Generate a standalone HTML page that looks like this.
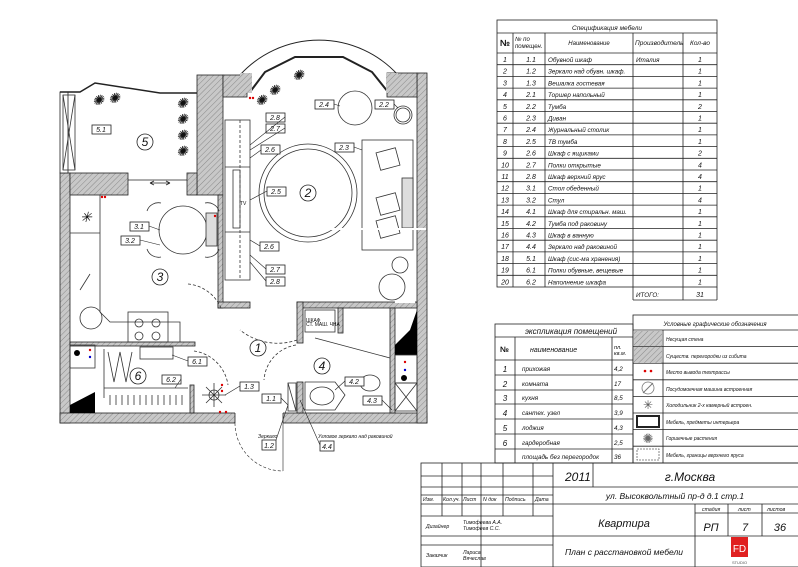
<!DOCTYPE html>
<html><head><meta charset="utf-8"><style>
html,body{margin:0;padding:0;background:#fff}
svg{display:block}
text{font-family:"Liberation Sans",sans-serif;font-style:italic;fill:#111}
</style></head><body>
<svg width="798" height="567" viewBox="0 0 798 567" xmlns="http://www.w3.org/2000/svg">
<defs>
<pattern id="h" width="4" height="4" patternUnits="userSpaceOnUse" patternTransform="rotate(45)">
<rect width="4" height="4" fill="#c8c8c8"/><line x1="0" y1="0" x2="0" y2="4" stroke="#8a8a8a" stroke-width="1"/>
</pattern>
</defs>
<rect width="798" height="567" fill="#fff"/>

<g stroke="#222" stroke-width="0.8">
<rect x="60" y="173" width="10" height="250" fill="url(#h)"/>
<rect x="60" y="413" width="367" height="10" fill="url(#h)"/>
<rect x="417" y="73" width="10" height="350" fill="url(#h)"/>
<rect x="197" y="75" width="26" height="120" fill="url(#h)"/>
<rect x="223" y="75" width="24" height="22" fill="url(#h)"/>
<rect x="387" y="73" width="30" height="24" fill="url(#h)"/>
<rect x="70" y="173" width="58" height="22" fill="url(#h)"/>
<rect x="187" y="173" width="10" height="22" fill="url(#h)"/>
<rect x="218" y="195" width="5" height="113" fill="url(#h)"/>
<rect x="218" y="302" width="32" height="6" fill="url(#h)"/>
<rect x="297" y="302" width="120" height="6" fill="url(#h)"/>
<rect x="297" y="302" width="6" height="41" fill="url(#h)"/>
<rect x="297" y="382" width="6" height="31" fill="url(#h)"/>
<rect x="390" y="308" width="5" height="105" fill="url(#h)"/>
<rect x="338" y="308" width="5" height="25" fill="url(#h)"/>
<rect x="70" y="342" width="125" height="4" fill="url(#h)"/>
<rect x="190" y="385" width="4" height="28" fill="url(#h)"/>
<rect x="60" y="92" width="8" height="81" fill="#fff"/>
<polyline points="60,92 80,92 95,83 160,93 197,93" fill="none" stroke-width="1.5"/>
<line x1="128" y1="180" x2="187" y2="180"/>
<rect x="235" y="412" width="48" height="12" fill="#fff" stroke="none"/>
<line x1="235" y1="413" x2="235" y2="423"/><line x1="283" y1="413" x2="283" y2="423"/>
<path d="M235,423 A48,48 0 0 0 283,471" fill="none" stroke-dasharray="3,2" stroke-width="0.6"/>
<line x1="283" y1="423" x2="283" y2="471" stroke-width="0.6"/>
<path d="M240,75 A107,107 0 0 1 398,75" fill="none" stroke-width="1"/>
<path d="M250,92 L265,72 L295,57 L343,57 L372,72 L388,92" fill="none" stroke-width="2"/>
<rect x="240" y="73" width="12" height="20" fill="url(#h)" stroke="none"/>
<rect x="386" y="73" width="12" height="20" fill="url(#h)" stroke="none"/>
</g>
<path d="M70,405 L95,392 L95,413 L70,413Z" fill="#000"/>
<path d="M395,345 L410,330 L417,310 L417,355 L395,355Z" fill="#000"/>

<g fill="none" stroke="#333" stroke-width="0.8">
<rect x="63" y="95" width="12" height="75"/><line x1="63" y1="95" x2="75" y2="170"/><line x1="75" y1="95" x2="63" y2="170"/>
<circle cx="308" cy="193" r="49"/><circle cx="308" cy="193" r="44"/>
<circle cx="355" cy="108" r="17"/><circle cx="403" cy="115" r="9"/><circle cx="403" cy="115" r="7"/>
<rect x="362" y="140" width="51" height="110"/><rect x="402" y="178" width="11" height="50" fill="#ddd"/>
<rect x="378" y="150" width="20" height="18" transform="rotate(-15 388 159)"/>
<rect x="378" y="195" width="20" height="18" transform="rotate(-15 388 204)"/>
<rect x="378" y="218" width="20" height="18" transform="rotate(-15 388 227)"/>
<rect x="225" y="120" width="25" height="160"/><line x1="225" y1="167" x2="250" y2="167"/><line x1="225" y1="232" x2="250" y2="232"/>
<line x1="240" y1="120" x2="240" y2="280" stroke-dasharray="3,2"/>
<rect x="233" y="170" width="7" height="58"/>
<circle cx="392" cy="287" r="13"/><circle cx="400" cy="265" r="8"/>
<polyline points="100,195 100,312 110,322 180,322 180,342"/>
<line x1="70" y1="233" x2="100" y2="233"/>
<circle cx="183" cy="230" r="24"/>
<path d="M147,211 a12,12 0 0 1 14,-8"/><path d="M205,203 a12,12 0 0 1 14,8"/>
<path d="M147,249 a12,12 0 0 0 14,8"/><path d="M205,257 a12,12 0 0 0 14,-8"/>
<rect x="206" y="213" width="11" height="33" fill="#ddd"/>
<circle cx="91" cy="318" r="11"/>
<rect x="128" y="312" width="40" height="30"/>
<circle cx="139" cy="323" r="4"/><circle cx="156" cy="323" r="4"/><circle cx="139" cy="336" r="4"/><circle cx="156" cy="336" r="4"/>
<line x1="80" y1="290" x2="90" y2="274"/>
<path d="M188,284 A40,40 0 0 1 221,308" stroke-dasharray="3,2"/>
<path d="M194,351 A40,40 0 0 1 228,385" stroke-dasharray="3,2"/>
<path d="M296,345 A38,38 0 0 0 264,380" stroke-dasharray="3,2"/>
<path d="M297,340 A60,60 0 0 1 240,330" stroke-dasharray="3,2"/>
<rect x="140" y="347" width="33" height="12"/>
<path d="M104,349 L104,398 M104,388 L188,388"/>
<path d="M108,352 l6,30 l6,-30 l6,30 l6,-30 M110,395 l0,10 M116,395 l0,10 M122,395 l0,10 M128,395 l0,10 M134,395 l0,10 M140,395 l0,10 M146,395 l0,10 M152,395 l0,10 M158,395 l0,10 M164,395 l0,10 M170,395 l0,10 M176,395 l0,10 M182,395 l0,10"/>
<rect x="70" y="345" width="25" height="23"/>
<circle cx="214" cy="395" r="5"/><path d="M214,383 v24 M202,395 h24 M206,387 l16,16 M222,387 l-16,16"/>
<rect x="288" y="383" width="8" height="28"/><line x1="288" y1="383" x2="296" y2="411"/>
<rect x="305" y="310" width="30" height="22"/>
<path d="M305,382 L335,382 L345,395 L335,410 L305,410Z"/><ellipse cx="322" cy="396" rx="12" ry="9"/>
<ellipse cx="370" cy="383" rx="10" ry="8"/>
<rect x="395" y="383" width="22" height="28"/><line x1="395" y1="383" x2="417" y2="411"/><line x1="417" y1="383" x2="395" y2="411"/>
<rect x="395" y="355" width="22" height="28"/>
<line x1="315" y1="338" x2="390" y2="358"/>
</g>
<circle cx="404" cy="378" r="3" fill="#000"/><circle cx="77" cy="353" r="3" fill="#000"/>
<g fill="#d00"><circle cx="250" cy="98" r="1.2"/><circle cx="253" cy="98" r="1.2"/><circle cx="102" cy="197" r="1.2"/><circle cx="105" cy="197" r="1.2"/><circle cx="215" cy="216" r="1.2"/><circle cx="222" cy="385" r="1.2"/><circle cx="222" cy="391" r="1.2"/><circle cx="220" cy="412" r="1.2"/><circle cx="226" cy="412" r="1.2"/><circle cx="405" cy="362" r="1.2"/><circle cx="90" cy="350" r="1.2"/></g>
<g fill="#00c"><circle cx="405" cy="370" r="1.2"/><circle cx="90" cy="357" r="1.2"/></g>
<g font-size="14" fill="#555" style="font-style:normal">
<text x="92" y="105">✺</text><text x="108" y="103">✺</text><text x="176" y="108">✺</text><text x="176" y="124">✺</text><text x="176" y="140">✺</text><text x="176" y="156">✺</text><text x="268" y="95">✺</text><text x="292" y="80">✺</text><text x="255" y="105">✺</text>
</g>
<g font-size="14" fill="#333" style="font-style:normal"><text x="80" y="222">✳</text></g>
<g fill="#fff" stroke="#222" stroke-width="0.8"><circle cx="145" cy="142" r="8"/><circle cx="308" cy="193" r="8"/><circle cx="160" cy="277" r="8"/><circle cx="258" cy="348" r="8"/><circle cx="322" cy="366" r="8"/><circle cx="138" cy="376" r="8"/></g>
<g font-size="12" text-anchor="middle" style="font-style:normal"><text x="145" y="146">5</text><text x="308" y="197">2</text><text x="160" y="281">3</text><text x="258" y="352">1</text><text x="322" y="370">4</text><text x="138" y="380">6</text></g>
<g fill="#fff" stroke="#222" stroke-width="0.8">
<rect x="92" y="125" width="19" height="9"/><rect x="266" y="113" width="19" height="9"/><rect x="266" y="124" width="19" height="9"/><rect x="261" y="145" width="19" height="9"/><rect x="335" y="143" width="19" height="9"/><rect x="315" y="100" width="19" height="9"/><rect x="375" y="100" width="19" height="9"/><rect x="267" y="187" width="19" height="9"/><rect x="260" y="242" width="19" height="9"/><rect x="266" y="265" width="19" height="9"/><rect x="266" y="277" width="19" height="9"/><rect x="130" y="222" width="19" height="9"/><rect x="121" y="236" width="19" height="9"/><rect x="188" y="357" width="19" height="9"/><rect x="162" y="375" width="19" height="9"/><rect x="240" y="382" width="19" height="9"/><rect x="262" y="394" width="19" height="9"/><rect x="345" y="377" width="19" height="9"/><rect x="363" y="396" width="19" height="9"/><rect x="262" y="440" width="14" height="10"/><rect x="320" y="441" width="14" height="10"/>
</g>
<g font-size="7" text-anchor="middle">
<text x="101" y="132">5.1</text><text x="275" y="120">2.8</text><text x="275" y="131">2.7</text><text x="270" y="152">2.6</text><text x="344" y="150">2.3</text><text x="324" y="107">2.4</text><text x="384" y="107">2.2</text><text x="276" y="194">2.5</text><text x="269" y="249">2.6</text><text x="275" y="272">2.7</text><text x="275" y="284">2.8</text><text x="139" y="229">3.1</text><text x="130" y="243">3.2</text><text x="197" y="364">6.1</text><text x="171" y="382">6.2</text><text x="249" y="389">1.3</text><text x="271" y="401">1.1</text><text x="354" y="384">4.2</text><text x="372" y="403">4.3</text><text x="269" y="448">1.2</text><text x="327" y="449">4.4</text>
</g>
<g font-size="5"><text x="258" y="438">Зеркало</text><text x="318" y="438">Угловое зеркало над раковиной</text><text x="306" y="322" style="font-style:normal">ШКАФ</text><text x="306" y="326" style="font-style:normal">СТ. МАШ. ЧНА</text><text x="240" y="205" style="font-style:normal">TV</text></g>
<g stroke="#222" stroke-width="0.6" fill="none"><path d="M285,117 L250,145 M285,128 L250,150 M261,150 L250,158 M354,147 L362,150 M334,104 L340,106 M394,104 L398,108 M267,191 L250,200 M260,246 L250,240 M266,269 L250,255 M266,281 L250,262 M149,226 L160,230 M140,240 L160,245 M188,361 L172,355 M181,379 L175,388 M240,386 L225,395 M281,398 L288,405 M345,381 L335,390 M382,400 L392,410 M276,440 L288,405 M320,445 L300,400"/></g>
<path d="M150,183 h20 M150,183 l4,-2 M150,183 l4,2 M170,183 l-4,-2 M170,183 l-4,2" stroke="#222" stroke-width="0.8" fill="none"/>
<rect x="326" y="228" width="100" height="2" fill="#fff"/><rect x="395" y="300" width="20" height="3" fill="#fff"/>

<g stroke="#222" stroke-width="0.8" fill="none">
<rect x="497" y="20" width="220" height="267"/>
<line x1="497" y1="33" x2="717" y2="33"/><line x1="497" y1="53" x2="717" y2="53"/>
<line x1="513" y1="33" x2="513" y2="287"/><line x1="545" y1="33" x2="545" y2="287"/><line x1="633" y1="33" x2="633" y2="300"/><line x1="683" y1="33" x2="683" y2="300"/><line x1="717" y1="287" x2="717" y2="300"/><line x1="633" y1="300" x2="717" y2="300"/>
<path d="M497,64.7h220M497,76.4h220M497,88.1h220M497,99.8h220M497,111.5h220M497,123.2h220M497,134.9h220M497,146.6h220M497,158.3h220M497,170h220M497,181.7h220M497,193.4h220M497,205.1h220M497,216.8h220M497,228.5h220M497,240.2h220M497,251.9h220M497,263.6h220M497,275.3h220"/>
</g>
<g font-size="7">
<text x="607" y="30" text-anchor="middle" font-size="6.5">Спецификация мебели</text>
<text x="500" y="46" font-size="9" style="font-style:normal;font-weight:bold">№</text>
<text x="515" y="41" font-size="6">№ по</text><text x="515" y="48" font-size="6">помещен.</text>
<text x="589" y="45" text-anchor="middle" font-size="6">Наименование</text>
<text x="635" y="45" font-size="6.5">Производитель</text><text x="700" y="45" text-anchor="middle" font-size="6.5">Кол-во</text>
</g>
<g font-size="7">
<g text-anchor="middle">
<text x="505" y="62">1</text><text x="505" y="73.7">2</text><text x="505" y="85.4">3</text><text x="505" y="97.1">4</text><text x="505" y="108.8">5</text><text x="505" y="120.5">6</text><text x="505" y="132.2">7</text><text x="505" y="143.9">8</text><text x="505" y="155.6">9</text><text x="505" y="167.3">10</text><text x="505" y="179">11</text><text x="505" y="190.7">12</text><text x="505" y="202.4">13</text><text x="505" y="214.1">14</text><text x="505" y="225.8">15</text><text x="505" y="237.5">16</text><text x="505" y="249.2">17</text><text x="505" y="260.9">18</text><text x="505" y="272.6">19</text><text x="505" y="284.3">20</text>
<text x="531" y="62">1.1</text><text x="531" y="73.7">1.2</text><text x="531" y="85.4">1.3</text><text x="531" y="97.1">2.1</text><text x="531" y="108.8">2.2</text><text x="531" y="120.5">2.3</text><text x="531" y="132.2">2.4</text><text x="531" y="143.9">2.5</text><text x="531" y="155.6">2.6</text><text x="531" y="167.3">2.7</text><text x="531" y="179">2.8</text><text x="531" y="190.7">3.1</text><text x="531" y="202.4">3.2</text><text x="531" y="214.1">4.1</text><text x="531" y="225.8">4.2</text><text x="531" y="237.5">4.3</text><text x="531" y="249.2">4.4</text><text x="531" y="260.9">5.1</text><text x="531" y="272.6">6.1</text><text x="531" y="284.3">6.2</text>
<text x="700" y="62">1</text><text x="700" y="73.7">1</text><text x="700" y="85.4">1</text><text x="700" y="97.1">1</text><text x="700" y="108.8">2</text><text x="700" y="120.5">1</text><text x="700" y="132.2">1</text><text x="700" y="143.9">1</text><text x="700" y="155.6">2</text><text x="700" y="167.3">4</text><text x="700" y="179">4</text><text x="700" y="190.7">1</text><text x="700" y="202.4">4</text><text x="700" y="214.1">1</text><text x="700" y="225.8">1</text><text x="700" y="237.5">1</text><text x="700" y="249.2">1</text><text x="700" y="260.9">1</text><text x="700" y="272.6">1</text><text x="700" y="284.3">1</text><text x="700" y="297">31</text>
</g>
<g font-size="6.3">
<text x="548" y="62">Обувной шкаф</text><text x="548" y="73.7">Зеркало над обувн. шкаф.</text><text x="548" y="85.4">Вешалка гостевая</text><text x="548" y="97.1">Торшер напольный</text><text x="548" y="108.8">Тумба</text><text x="548" y="120.5">Диван</text><text x="548" y="132.2">Журнальный столик</text><text x="548" y="143.9">ТВ тумба</text><text x="548" y="155.6">Шкаф с ящиками</text><text x="548" y="167.3">Полки открытые</text><text x="548" y="179">Шкаф верхний ярус</text><text x="548" y="190.7">Стол обеденный</text><text x="548" y="202.4">Стул</text><text x="548" y="214.1">Шкаф для стиральн. маш.</text><text x="548" y="225.8">Тумба под раковину</text><text x="548" y="237.5">Шкаф в ванную</text><text x="548" y="249.2">Зеркало над раковиной</text><text x="548" y="260.9">Шкаф (сис-ма хранения)</text><text x="548" y="272.6">Полки обувные, вещевые</text><text x="548" y="284.3">Наполнение шкафа</text>
<text x="636" y="62">Италия</text><text x="636" y="297">ИТОГО:</text>
</g></g>

<g stroke="#222" stroke-width="0.8" fill="none">
<rect x="495" y="324" width="138" height="139"/>
<line x1="495" y1="337" x2="633" y2="337"/><line x1="495" y1="360" x2="633" y2="360"/>
<line x1="515" y1="337" x2="515" y2="463"/><line x1="612" y1="337" x2="612" y2="463"/>
<path d="M495,375h138M495,390h138M495,404h138M495,419h138M495,434h138M495,449h138"/>
</g>
<g font-size="8">
<text x="525" y="334" font-size="8">экспликация  помещений</text>
<text x="500" y="352" style="font-style:normal;font-weight:bold">№</text><text x="530" y="352" font-size="7">наименование</text>
<text x="614" y="349" font-size="5.5">пл.</text><text x="614" y="355" font-size="5.5">кв.м.</text>
<g text-anchor="middle"><text x="505" y="372">1</text><text x="505" y="387">2</text><text x="505" y="401">3</text><text x="505" y="416">4</text><text x="505" y="431">5</text><text x="505" y="446">6</text></g>
<g font-size="6.3"><text x="522" y="371">прихожая</text><text x="522" y="386">комната</text><text x="522" y="400">кухня</text><text x="522" y="415">сантех. узел</text><text x="522" y="430">лоджия</text><text x="522" y="445">гардеробная</text><text x="522" y="459">площадь без перегородок</text>
<text x="614" y="371">4,2</text><text x="614" y="386">17</text><text x="614" y="400">8,5</text><text x="614" y="415">3,9</text><text x="614" y="430">4,3</text><text x="614" y="445">2,5</text><text x="614" y="459">36</text></g>
</g>

<g stroke="#222" stroke-width="0.8" fill="none">
<rect x="633" y="315" width="166" height="148"/>
<line x1="633" y1="330" x2="798" y2="330"/><line x1="663" y1="330" x2="663" y2="463"/>
<path d="M633,346.6h165M633,363.2h165M633,379.8h165M633,396.4h165M633,413h165M633,429.6h165M633,446.2h165"/>
</g>
<rect x="634" y="331" width="28" height="15" fill="url(#h)"/>
<rect x="634" y="347" width="28" height="16" fill="url(#h)"/>
<circle cx="645" cy="371" r="1.3" fill="#d00"/><circle cx="651" cy="371" r="1.3" fill="#d00"/>
<circle cx="648" cy="388" r="6" fill="none" stroke="#777" stroke-width="0.8"/><line x1="643" y1="393" x2="653" y2="383" stroke="#777"/>
<text x="648" y="409" text-anchor="middle" font-size="12" style="font-style:normal;fill:#555">✳</text>
<rect x="637" y="416" width="22" height="11" fill="none" stroke="#222" stroke-width="2"/>
<text x="648" y="443" text-anchor="middle" font-size="13" style="font-style:normal;fill:#666">✺</text>
<rect x="637" y="449" width="22" height="11" fill="none" stroke="#666" stroke-width="0.8" stroke-dasharray="2,1"/>
<g font-size="5">
<text x="715" y="326" text-anchor="middle" font-size="6">Условные графические обозначения</text>
<text x="666" y="341">Несущая стена</text><text x="666" y="358">Существ. перегородки из сибита</text><text x="666" y="374">Место вывода техтрассы</text><text x="666" y="391">Посудомоечная машина встроенная</text><text x="666" y="407">Холодильник 2-х камерный встроен.</text><text x="666" y="424">Мебель, предметы интерьера</text><text x="666" y="440">Горшечные растения</text><text x="666" y="457">Мебель, границы верхнего яруса</text>
</g>

<g stroke="#222" stroke-width="0.8" fill="none">
<rect x="421" y="463" width="378" height="104"/>
<path d="M442,463v53M462,463v53M481,463v104M503,463v53M533,463v53M553,463v104"/>
<path d="M421,476h132M421,487h132M421,495h132M421,504h132M421,516h132M421,536h132M421,545h132"/>
<path d="M553,487h245M553,504h245M593,463v24M695,504v32M728,504v32M762,504v32M695,513h103M553,536h245M695,536v31"/>
</g>
<text x="565" y="481" font-size="12">2011</text>
<text x="690" y="481" text-anchor="middle" font-size="12">г.Москва</text>
<text x="675" y="499" text-anchor="middle" font-size="8.5">ул. Высоквольтный пр-д д.1 стр.1</text>
<g font-size="5.2"><text x="423" y="501">Изм.</text><text x="443" y="501">Кол.уч.</text><text x="463" y="501">Лист</text><text x="483" y="501">N док</text><text x="505" y="501">Подпись</text><text x="535" y="501">Дата</text>
<text x="426" y="528">Дизайнер</text><text x="463" y="524">Тимофеева А.А.</text><text x="463" y="530">Тимофеев С.С.</text>
<text x="426" y="557">Заказчик</text><text x="463" y="554">Лариса</text><text x="463" y="560">Вячеслав</text>
<text x="702" y="511">стадия</text><text x="738" y="511">лист</text><text x="767" y="511">листов</text></g>
<text x="624" y="527" text-anchor="middle" font-size="11">Квартира</text>
<text x="624" y="555" text-anchor="middle" font-size="8.5">План с расстановкой мебели</text>
<text x="711" y="531" text-anchor="middle" font-size="11">РП</text><text x="745" y="531" text-anchor="middle" font-size="11">7</text><text x="780" y="531" text-anchor="middle" font-size="11">36</text>
<rect x="731" y="537" width="17" height="20" fill="#e02020"/>
<text x="739.5" y="552" text-anchor="middle" font-size="10" style="font-style:normal;fill:#fff">FD</text>
<text x="739.5" y="564" text-anchor="middle" font-size="4" style="font-style:normal;fill:#555">STUDIO</text>
</svg>
</body></html>
